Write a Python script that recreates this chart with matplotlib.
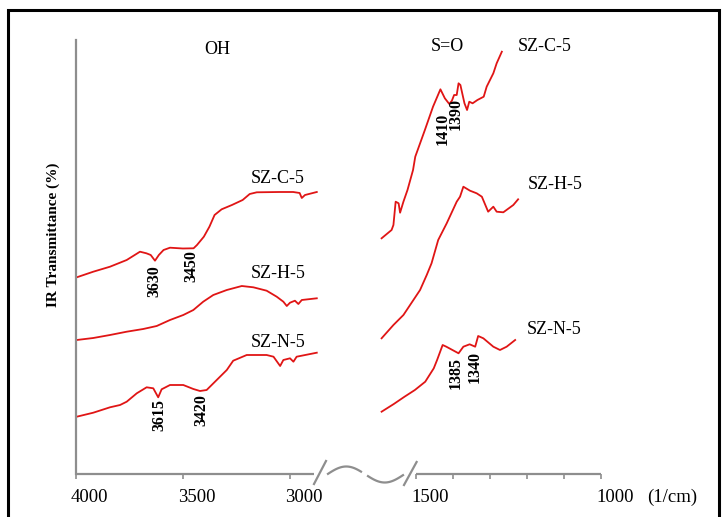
import numpy as np
import matplotlib
matplotlib.use("Agg")
import matplotlib.pyplot as plt
from matplotlib.transforms import blended_transform_factory
from matplotlib.patches import Rectangle

# ---- spectra: wavenumber (1/cm) and relative transmittance (offset traces) ----
# OH stretching region
c5_oh_wn = [3995, 3918, 3840, 3762, 3700, 3670, 3650, 3630, 3612, 3590, 3560, 3500,
            3450, 3434, 3402, 3376, 3352, 3319, 3271, 3221, 3188, 3155, 3050, 2985,
            2955, 2945, 2930, 2875]
c5_oh_tr = [196.7, 202.3, 207.3, 214, 222.3, 220.7, 219, 213.3, 219, 224, 226.3, 225.5,
            225.7, 229, 237.3, 247.3, 259, 264.7, 269, 274, 280, 281.7, 282, 282,
            281, 276, 279, 282]

h5_oh_wn = [3995, 3918, 3840, 3762, 3685, 3622, 3560, 3498, 3451, 3405, 3358, 3295,
            3225, 3171, 3109, 3062, 3031, 3015, 3000, 2977, 2961, 2945, 2875]
h5_oh_tr = [134, 136, 139, 142.3, 145, 148, 154, 159, 164, 172.3, 179, 184,
            188, 186.7, 183.3, 177.3, 172.3, 168, 171.3, 173.3, 170, 174, 175.7]

n5_oh_wn = [3995, 3918, 3840, 3793, 3762, 3715, 3669, 3638, 3615, 3599, 3560, 3498,
            3451, 3420, 3389, 3342, 3295, 3265, 3202, 3109, 3077, 3046, 3031, 3000,
            2984, 2969, 2875]
n5_oh_tr = [57.3, 61.3, 66.7, 69, 72.3, 80.7, 86.7, 85.7, 76.7, 84.7, 89, 89,
            85, 83, 84, 94, 104, 113.3, 119, 119, 117.3, 108, 114, 115.7,
            112.3, 117.3, 121.3]

# S=O stretching region
c5_so_wn = [1593, 1566, 1561, 1555, 1547, 1543, 1534, 1523, 1508, 1502, 1476, 1454,
            1434, 1422, 1410, 1403, 1397, 1390, 1385, 1380, 1376, 1369, 1362, 1356,
            1347, 1334, 1317, 1309, 1300, 1291, 1282, 1268]
c5_so_tr = [235.7, 244, 249, 272.3, 270.7, 261.3, 272.3, 284, 304, 317.3, 344, 367.3,
            384.7, 375.7, 370, 373.3, 379, 379, 390.7, 389, 382.3, 370.7, 364, 372.3,
            370.7, 374, 377.3, 387.3, 394, 400.7, 410.7, 422.3]

h5_so_wn = [1593, 1561, 1534, 1507, 1489, 1471, 1458, 1440, 1417, 1390, 1381, 1372,
            1354, 1336, 1322, 1305, 1291, 1282, 1264, 1237, 1224]
h5_so_tr = [135.7, 149, 159, 174, 184, 199, 210.7, 234, 250.7, 272.3, 277.3, 287.3,
            283.3, 280.7, 277.3, 262.3, 267.3, 262.3, 261.7, 269, 274.7]

n5_so_wn = [1593, 1560, 1531, 1503, 1475, 1452, 1443, 1428, 1418, 1385, 1372, 1355,
            1340, 1332, 1318, 1291, 1273, 1255, 1232]
n5_so_tr = [62.3, 70, 77.3, 84, 92.3, 105.7, 114, 129, 127.3, 120.7, 127.3, 129.7,
            127.3, 138, 135.7, 127.3, 124, 127.3, 134]

# series names and where they sit (wavenumber, transmittance)
series_names = ["SZ-C-5", "SZ-H-5", "SZ-N-5"]
name_pos_oh = [(3058, 295.7), (3056, 200.7), (3056, 131.5)]
name_pos_so = [(1151, 428), (1125, 290), (1127, 145)]

# band assignments: wavenumber, label top, horizontal nudge (px)
band_wn = [3630, 3450, 3615, 3420, 1410, 1390, 1385, 1340]
band_top = [209, 224, 75, 80, 361, 376, 117, 123]
band_dx = [-1, -2, 1, 1, -7, -1, -3, -1]

tick_wn = [4000, 3500, 3000, 1500, 1000]
tick_labels = ["4000", "3500", "3000", "1500", "1000"]
minor_wn = [1400, 1300, 1200, 1100]

RED = "#e01515"
GREY = "#8e8e8e"
SERIF = ["Liberation Serif", "DejaVu Serif"]

# ---- broken wavenumber axis: two linear pieces with different scales ----
# (1000-1650 at 0.37 px per 1/cm, 2860-4000 at 0.2143 px per 1/cm)
WN_KNOTS = [1000.0, 1650.0, 2860.0, 4000.0]
U_KNOTS = [0.0, 240.5, 281.0, 525.3]


def forward(w):
    return np.interp(np.asarray(w, dtype=float), WN_KNOTS, U_KNOTS)


def inverse(u):
    return np.interp(np.asarray(u, dtype=float), U_KNOTS, WN_KNOTS)


W, H = 724, 517
fig = plt.figure(figsize=(W / 100, H / 100), dpi=100)
ax = fig.add_axes([75.7 / W, 1 - 474 / H, 525.3 / W, 434 / H])
ax.set_xscale("function", functions=(forward, inverse))
ax.set_xlim(4000, 1000)
ax.set_ylim(0, 434)

# outer frame
fig.patches.append(Rectangle((8 / W, -0.05), 711 / W, 1.05 - 10 / H,
                             transform=fig.transFigure, fill=False,
                             edgecolor="black", linewidth=2.2))

# spectra
for wn, tr in [(c5_oh_wn, c5_oh_tr), (h5_oh_wn, h5_oh_tr), (n5_oh_wn, n5_oh_tr),
               (c5_so_wn, c5_so_tr), (h5_so_wn, h5_so_tr), (n5_so_wn, n5_so_tr)]:
    ax.plot(wn, tr, color=RED, lw=1.3, solid_joinstyle="round")

# spines / ticks
for s in ["top", "right", "bottom"]:
    ax.spines[s].set_visible(False)
ax.spines["left"].set_color(GREY)
ax.spines["left"].set_linewidth(1.6)
ax.set_yticks([])
ax.set_xticks(tick_wn)
ax.set_xticklabels([""] * len(tick_wn))
ax.set_xticks(minor_wn, minor=True)
ax.tick_params(axis="x", which="both", direction="out", length=3.5,
               width=1.2, color=GREY)

xb = blended_transform_factory(ax.transData, ax.transAxes)
ax.plot([4000, 2888], [0, 0], color=GREY, lw=1.6, transform=xb,
        clip_on=False, solid_capstyle="butt")
ax.plot([1500, 1000], [0, 0], color=GREY, lw=1.6, transform=xb,
        clip_on=False, solid_capstyle="butt")


# axis-break glyph (drawn in axes fraction)
def axfrac(px, py):
    return (np.asarray(px) - 75.7) / 525.3, (474 - np.asarray(py)) / 434


for (x0, y0), (x1, y1) in [((314, 484), (326, 461)), ((404, 485), (416.6, 462))]:
    fx, fy = axfrac([x0, x1], [y0, y1])
    ax.plot(fx, fy, color=GREY, lw=1.6, transform=ax.transAxes, clip_on=False)
for a, b in [(328, 361), (368, 403)]:
    px = np.linspace(a, b, 40)
    py = 474.5 - 8 * np.sin(2 * np.pi * (px - 327) / 77)
    fx, fy = axfrac(px, py)
    ax.plot(fx, fy, color=GREY, lw=1.6, transform=ax.transAxes, clip_on=False)

# tick labels
for w, lab in zip(tick_wn, tick_labels):
    ax.annotate(lab, xy=(w, 0), xycoords=xb, xytext=(14, -23),
                textcoords="offset pixels", ha="center", va="center",
                fontsize=13.5, family=SERIF)
ax.annotate("(1/cm)", xy=(1000, 0), xycoords=xb, xytext=(71, -23),
            textcoords="offset pixels", ha="center", va="center",
            fontsize=13.5, family=SERIF)

# series names
for name, (w, t) in zip(series_names, name_pos_oh):
    ax.text(w, t, name, ha="center", va="center", fontsize=13, family=SERIF)
for name, (w, t) in zip(series_names, name_pos_so):
    ax.text(w, t, name, ha="center", va="center", fontsize=13, family=SERIF)

# region titles
ax.text(3341, 425, "OH", ha="center", va="center", fontsize=13, family=SERIF)
ax.text(1416, 428, "S=O", ha="center", va="center", fontsize=13, family=SERIF)

# band assignments
for w, top, dx in zip(band_wn, band_top, band_dx):
    ax.annotate(str(w), xy=(w, top), xytext=(dx, 0), textcoords="offset pixels",
                rotation=90, ha="center", va="top", fontsize=11.5,
                fontweight="bold", family=SERIF)

fig.text(53 / W, 1 - 235 / H, "IR Transmittance (%)", rotation=90,
         ha="center", va="center", fontsize=11, fontweight="bold", family=SERIF)

fig.savefig("out.png", dpi=100)
